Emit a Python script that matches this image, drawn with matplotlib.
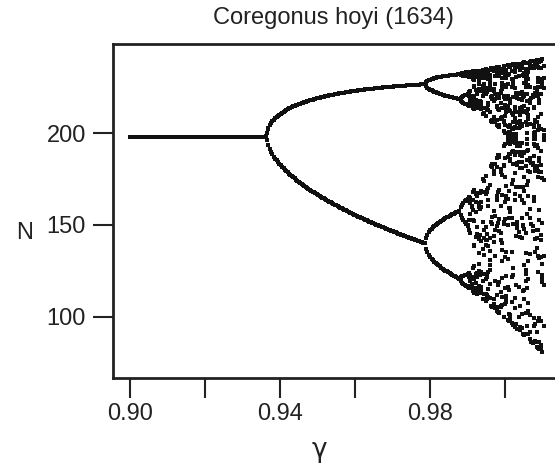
import numpy as np
import matplotlib
matplotlib.use("Agg")
import matplotlib.pyplot as plt

# ---- chart content ----
title = "Coregonus hoyi (1634)"
x_label = "\u03b3"
y_label = "N"
x_ticks = [0.90, 0.92, 0.94, 0.96, 0.98, 1.00]
x_ticklabels = ["0.90", "", "0.94", "", "0.98", ""]
y_ticks = [100, 150, 200]
y_ticklabels = ["100", "150", "200"]

# model parameters (theta-logistic map)
gamma_start, gamma_end, n_gamma = 0.900, 1.0103, 300
K = 198.0                     # equilibrium N
theta = 2.0                   # shape of the density dependence
gamma_flip = 0.9365           # first period doubling (r = 2)
gamma_four = 0.9787           # period-4 onset (r = 2.472)
r_four = 2.472
n_transient, n_keep = 800, 16

gammas = np.linspace(gamma_start, gamma_end, n_gamma)
r = 2.0 + (r_four - 2.0) * (gammas - gamma_flip) / (gamma_four - gamma_flip)
x = np.full_like(gammas, 0.9)
for _ in range(n_transient):
    x = x * (1 + r * (1 - x ** theta) / theta)
G, Nv = [], []
for _ in range(n_keep):
    x = x * (1 + r * (1 - x ** theta) / theta)
    G.append(gammas.copy())
    Nv.append(K * x)
G = np.concatenate(G)
Nv = np.concatenate(Nv)

plt.rcParams['font.family'] = ['Liberation Sans', 'DejaVu Sans']
fig = plt.figure(figsize=(5.55, 4.68), dpi=100)
ax = fig.add_axes([113 / 555, 1 - 378 / 468, 1 - 113 / 555 + 0.01, (378 - 44) / 468])

ax.scatter(G, Nv, s=5.0, marker='s', c='#111111', linewidths=0)

ax.set_xlim(0.89547, 1.01333 + 0.01 * 555 / 3750)
ax.set_ylim(66.8, 248.4)
ax.set_xticks(x_ticks)
ax.set_xticklabels(x_ticklabels)
ax.set_yticks(y_ticks)
ax.set_yticklabels(y_ticklabels)
ax.tick_params(direction='out', length=14.4, width=1.5, labelsize=17, color='#222222',
               labelcolor='#222222')
ax.tick_params(axis='x', pad=3.6)
ax.tick_params(axis='y', pad=5)
for sp in ['left', 'bottom', 'top']:
    ax.spines[sp].set_linewidth(2.0)
    ax.spines[sp].set_color('#222222')
ax.spines['right'].set_visible(False)

fig.text(333 / 555, 1 - 18 / 468, title, fontsize=17, ha='center', va='center', color='#222222')
fig.text(319 / 555, 1 - 450 / 468, x_label, fontsize=19, ha='center', va='center', color='#222222',
         family=['DejaVu Sans'])
fig.text(25 / 555, 1 - 233 / 468, y_label, fontsize=17, ha='center', va='center', color='#222222')

fig.savefig("out.png", dpi=100)
